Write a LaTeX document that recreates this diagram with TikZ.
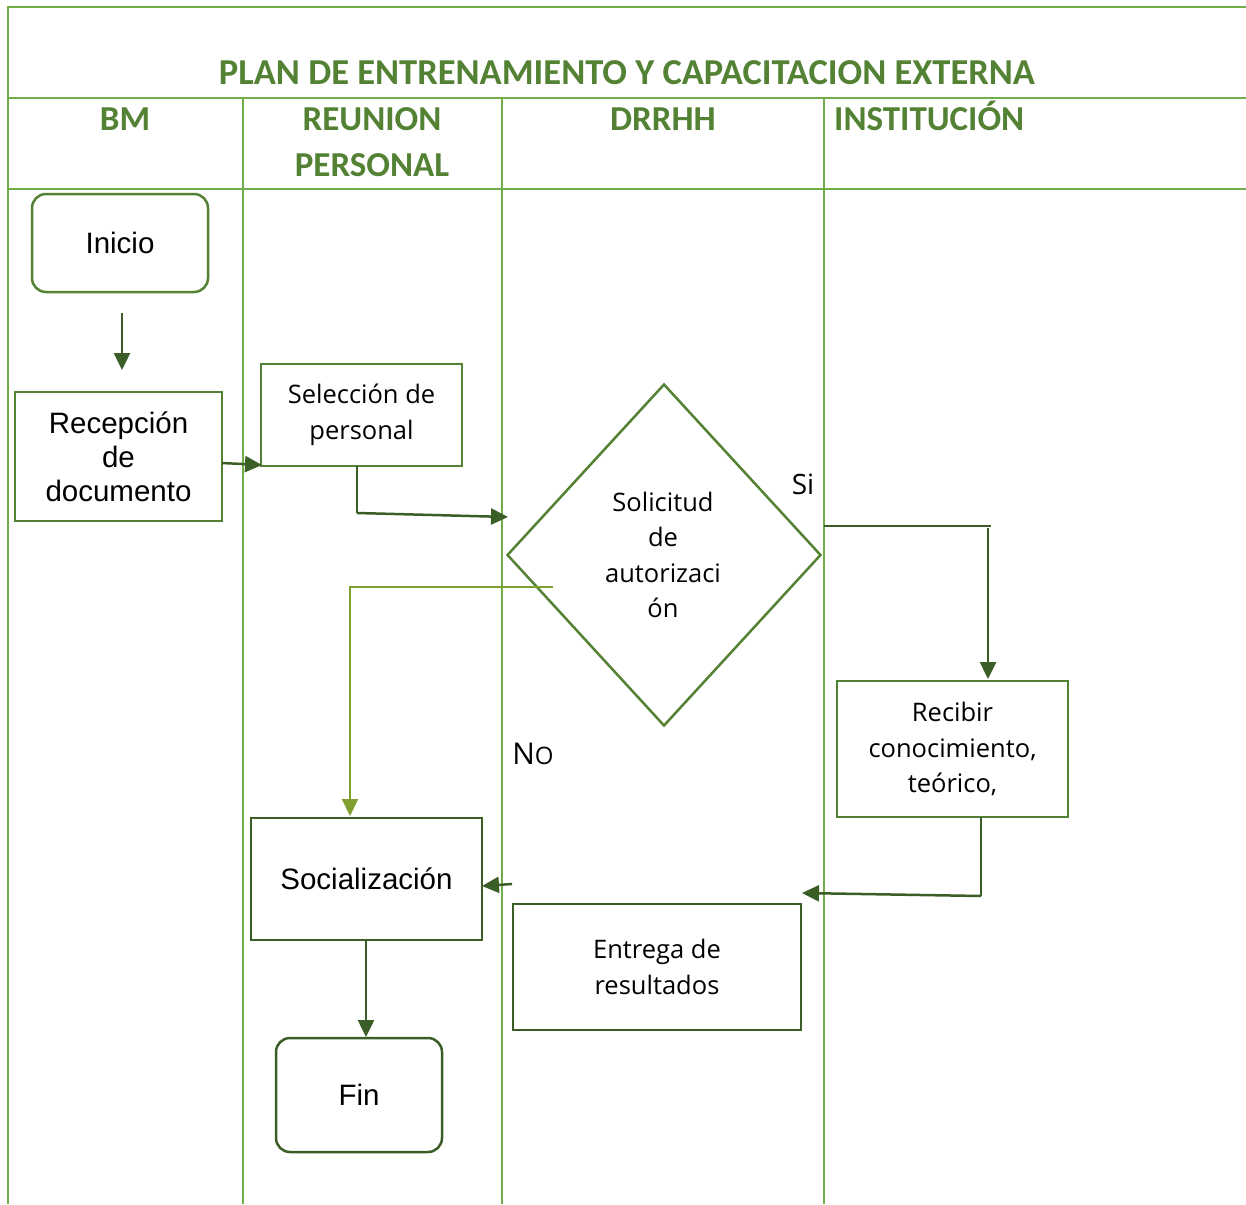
\documentclass[tikz,border=0pt]{standalone}
\usepackage{fontspec}
\setmainfont{Liberation Sans}
\newfontfamily\titlefont{Carlito}
\newfontfamily\bodyfont{Open Sans}
\usetikzlibrary{shapes.geometric,arrows.meta}

\definecolor{lanegreen}{HTML}{70AD47}
\definecolor{headgreen}{HTML}{548235}
\definecolor{boxgreen}{HTML}{548235}
\definecolor{darkgreen}{HTML}{3B5E26}
\definecolor{olivegreen}{HTML}{7F9F2E}

\tikzset{
  lane/.style={draw=lanegreen, line width=2pt},
  headtext/.style={text=headgreen, font=\titlefont\bfseries\fontsize{35}{45}\selectfont, inner sep=0pt, anchor=base},
  procbox/.style={draw=boxgreen, line width=2.5pt, fill=white, inner sep=2pt, align=center},
  darkbox/.style={procbox, draw=darkgreen},
  terminal/.style={procbox, rounded corners=14pt},
  arialtext/.style={font=\fontsize{29.5}{34}\selectfont},
  segtext/.style={font=\bodyfont\fontsize{25.5}{35.5}\selectfont},
  flow/.style={draw=darkgreen, line width=2.5pt, -{Triangle[length=17pt,width=16pt]}},
  thinflow/.style={draw=darkgreen, line width=1.5pt},
  nobranch/.style={draw=olivegreen, line width=2pt},
}

\begin{document}
\begin{tikzpicture}[x=1pt,y=-1pt]
  \useasboundingbox (0,0) rectangle (1246,1204);
  \fill[white] (0,0) rectangle (1246,1204);

  % swimlane grid
  \draw[lane] (8,1204) -- (8,7) -- (1246,7);
  \draw[lane] (8,98) -- (1246,98);
  \draw[lane] (8,189) -- (1246,189);
  \draw[lane] (243,98) -- (243,1204);
  \draw[lane] (502,98) -- (502,1204);
  \draw[lane] (824,98) -- (824,1204);

  % title and lane headers
  \node[headtext, font=\titlefont\bfseries\fontsize{36.5}{45}\selectfont] (title) at (627,85) {PLAN DE ENTRENAMIENTO Y CAPACITACION EXTERNA};
  \node[headtext] (hbm) at (125,131) {BM};
  \node[headtext] (hreu) at (372,131) {REUNION};
  \node[headtext] (hper) at (372,176) {PERSONAL};
  \node[headtext] (hdr) at (663,131) {DRRHH};
  \node[headtext, anchor=base west] (hins) at (834,131) {INSTITUCIÓN};

  % process steps
  \node[terminal, arialtext, minimum width=176pt, minimum height=98pt] (inicio) at (120,243) {Inicio};
  \node[procbox, arialtext, minimum width=207pt, minimum height=129pt] (recep) at (118.5,456.5) {Recepción\\de\\documento};
  \node[procbox, segtext, minimum width=201pt, minimum height=102pt] (selec) at (361.5,415) {Selección de\\personal};
  \node[draw=boxgreen, line width=2.5pt, diamond, inner sep=0pt, minimum width=314pt, minimum height=342pt] (decis) at (664,555) {};
  \node[segtext, align=center] (decistext) at (663,555) {Solicitud\\de\\autorizaci\\ón};
  \node[procbox, segtext, minimum width=231pt, minimum height=136pt] (recibir) at (952.5,749) {Recibir\\conocimiento,\\teórico,};
  \node[darkbox, segtext, minimum width=288pt, minimum height=126pt] (entrega) at (657,967) {Entrega de\\resultados};
  \node[darkbox, arialtext, minimum width=231pt, minimum height=122pt] (social) at (366.5,879) {Socialización};
  \node[terminal, darkbox, arialtext, rounded corners=14pt, minimum width=166pt, minimum height=114pt] (fin) at (359,1095) {Fin};

  % branch labels
  \node[font=\bodyfont\fontsize{28}{30}\selectfont, anchor=base] (si) at (803,494) {Si};
  \node[font=\bodyfont\fontsize{30}{30}\selectfont, anchor=base] (no) at (533,764) {N{\fontsize{24}{30}\selectfont O}};

  % connector helper points
  \coordinate (a1) at (122,313);
  \coordinate (a2) at (122,370);
  \coordinate (b1) at (222,463);
  \coordinate (b2) at (262,465);
  \coordinate (c1) at (357,466);
  \coordinate (c2) at (357,513);
  \coordinate (c3) at (508,517);
  \coordinate (d1) at (824,526);
  \coordinate (d2) at (991,526);
  \coordinate (d3) at (988,528);
  \coordinate (d4) at (988,679);
  \coordinate (e1) at (981,817);
  \coordinate (e2) at (981,896);
  \coordinate (e3) at (802,893);
  \coordinate (f1) at (512,884);
  \coordinate (f2) at (482,886);
  \coordinate (g1) at (553,587);
  \coordinate (g2) at (349,587);
  \coordinate (g3) at (350,587);
  \coordinate (g4) at (350,816);
  \coordinate (h1) at (366,940);
  \coordinate (h2) at (366,1037);

  % connectors
  \draw[flow] (a1) -- (a2);
  \draw[flow] (b1) -- (b2);
  \draw[thinflow] (c1) -- (c2);
  \draw[flow] (c2) -- (c3);
  \draw[thinflow, line width=1.2pt] (d1) -- (d2);
  \draw[flow] (d3) -- (d4);
  \draw[thinflow] (e1) -- (e2);
  \draw[flow] (e2) -- (e3);
  \draw[flow] (f1) -- (f2);
  \draw[nobranch] (g1) -- (g2);
  \draw[nobranch, -{Triangle[length=17pt,width=16pt]}] (g3) -- (g4);
  \draw[flow] (h1) -- (h2);
\end{tikzpicture}
\end{document}
